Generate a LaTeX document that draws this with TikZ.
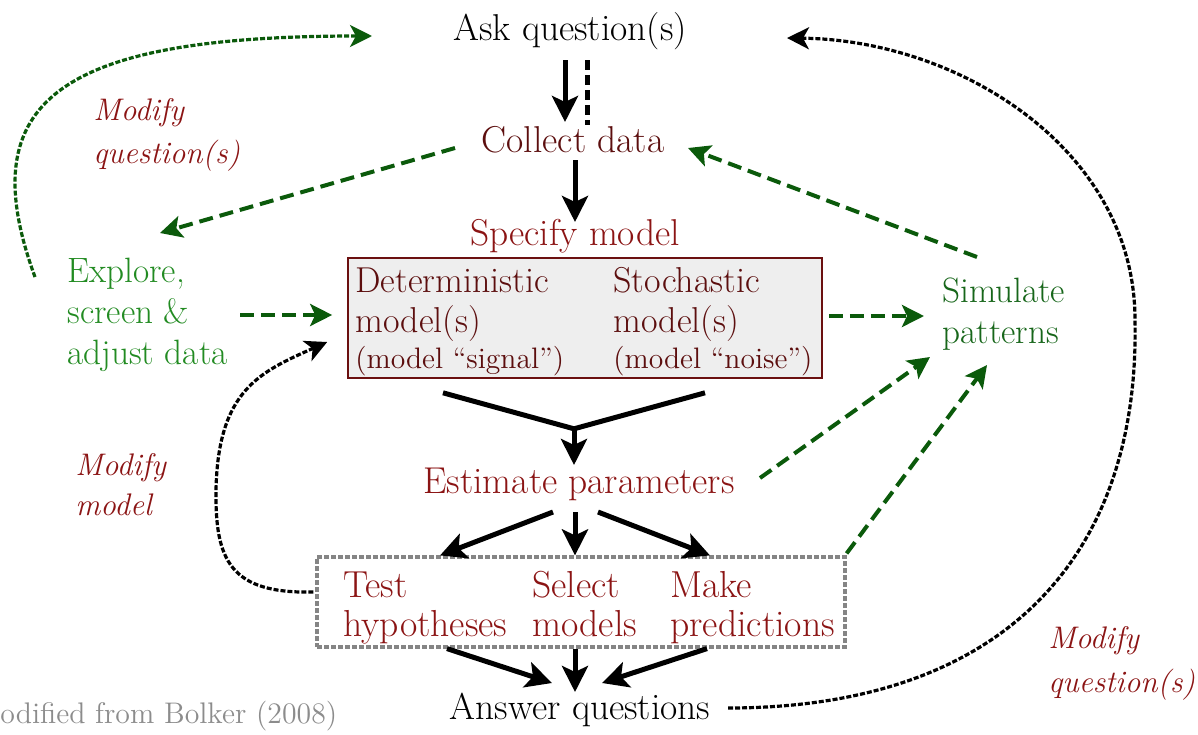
\documentclass[tikz,border=0pt]{standalone}
\usepackage{xcolor}
\usetikzlibrary{arrows.meta}

\definecolor{darkmaroon}{HTML}{5C0E0E}
\definecolor{brickred}{HTML}{8B1414}
\definecolor{boxred}{HTML}{6B1010}
\definecolor{leafgreen}{HTML}{228B22}
\definecolor{pinegreen}{HTML}{17661A}
\definecolor{arrowgreen}{HTML}{0B5A0B}
\definecolor{notegray}{HTML}{8C8C8C}
\definecolor{panelgray}{HTML}{EEEEEE}
\definecolor{framegray}{HTML}{858585}

\begin{document}
\begin{tikzpicture}[
    x=0.5pt, y=-0.5pt,
    type-step/.style={inner sep=2pt, anchor=base, font=\fontsize{18.7}{22}\selectfont},
    type-part/.style={inner sep=0pt, anchor=base west, align=left, text=brickred, font=\fontsize{18.8}{19.5}\selectfont},
    type-model/.style={inner sep=0pt, anchor=base west, align=left, text=darkmaroon, font=\fontsize{18}{20}\selectfont},
    type-green/.style={inner sep=0pt, anchor=base west, align=left, font=\fontsize{17.6}{20.5}\selectfont},
    type-modify/.style={inner sep=0pt, anchor=base west, align=left, text=brickred, font=\fontsize{15.6}{21.5}\itshape\selectfont},
    arr-main/.style={line width=2.5pt, -{Stealth[length=13pt, width=13pt, inset=3pt]}},
    arr-green/.style={arrowgreen, line width=2pt, dash pattern=on 7pt off 3.5pt, -{Stealth[length=11pt, width=11pt, inset=2.5pt]}},
    arr-loop/.style={line width=1.6pt, dash pattern=on 2.5pt off 1pt, -{Stealth[length=11pt, width=11pt, inset=3pt]}}
  ]
  \useasboundingbox (0,0) rectangle (1198,734);

  % main column
  \node[type-step] (ask) at (570,40) {Ask question(s)};
  \node[type-step, text=darkmaroon] (collect) at (573,152) {Collect data};
  \node[type-step, text=brickred] (specify) at (575,245) {Specify model};
  \node[draw=boxred, line width=0.8pt, fill=panelgray, minimum width=237pt, minimum height=60pt, inner sep=0pt] (box) at (585,318) {};
  \node[type-model] (det) at (355,332) {Deterministic\\model(s)};
  \node[type-model, font=\fontsize{14.8}{17}\selectfont] (detnote) at (355,368) {(model “signal”)};
  \node[type-model] (sto) at (613,332) {Stochastic\\model(s)};
  \node[type-model, font=\fontsize{14.8}{17}\selectfont] (stonote) at (613,368) {(model “noise”)};
  \node[type-step, text=brickred] (estimate) at (579,493) {Estimate parameters};
  \node[draw=framegray, line width=1.6pt, dash pattern=on 2.4pt off 1.1pt, minimum width=264pt, minimum height=45pt, inner sep=0pt] (outbox) at (581,602) {};
  \node[type-part] (test) at (343,636) {Test\\hypotheses};
  \node[type-part] (select) at (532,636) {Select\\models};
  \node[type-part] (make) at (670,636) {Make\\predictions};
  \node[type-step] (answer) at (580,719) {Answer questions};

  % side nodes
  \node[type-green, text=leafgreen] (explore) at (67,364) {Explore,\\screen \&\\adjust data};
  \node[type-green, text=pinegreen] (simulate) at (942,343) {Simulate\\patterns};
  \node[type-modify] (modq) at (93,163) {Modify\\question(s)};
  \node[type-modify, font=\fontsize{15.6}{20}\itshape\selectfont] (modm) at (75,515) {Modify\\model};
  \node[type-modify, font=\fontsize{15.6}{22}\itshape\selectfont] (modqr) at (1048,692) {Modify\\question(s)};
  \node[inner sep=0pt, anchor=base west, text=notegray, font=\fontsize{14.9}{17}\selectfont] (source) at (0,723) {odified from Bolker (2008)};

  % black flow
  \draw[arr-main] ([xshift=-2.5pt,yshift=-10pt]ask.base) -- ([xshift=-4pt,yshift=15pt]collect.base);
  \draw[line width=2.5pt, dash pattern=on 5pt off 2.5pt] ([xshift=8.5pt,yshift=-10pt]ask.base) -- ([xshift=7pt,yshift=13.5pt]collect.base);
  \draw[arr-main] ([xshift=1pt,yshift=-4pt]collect.base) -- ([yshift=11.5pt]specify.base);
  \coordinate (fork) at ([xshift=-5.5pt,yshift=-25pt]box.south);
  \draw[line width=2.5pt] ([xshift=-71pt,yshift=-7pt]box.south) -- (fork) -- ([xshift=60pt,yshift=-7pt]box.south);
  \draw[arr-main] (fork) -- ([xshift=-2.5pt,yshift=14pt]estimate.base);
  \draw[arr-main] ([xshift=-13pt,yshift=-9.5pt]estimate.base) -- ([xshift=-70.5pt]outbox.north);
  \draw[arr-main] ([xshift=-2pt,yshift=-9.5pt]estimate.base) -- ([xshift=-3pt]outbox.north);
  \draw[arr-main] ([xshift=9.5pt,yshift=-9.5pt]estimate.base) -- ([xshift=64.5pt]outbox.north);
  \draw[arr-main] ([xshift=-67pt]outbox.south) -- ([xshift=-14pt,yshift=18pt]answer.base);
  \draw[arr-main] ([xshift=-3pt]outbox.south) -- ([xshift=-2.5pt,yshift=13.5pt]answer.base);
  \draw[arr-main] ([xshift=63pt]outbox.south) -- ([xshift=11pt,yshift=18pt]answer.base);

  % green dashed
  \draw[arr-green] ([xshift=-59pt,yshift=2pt]collect.base) -- ([xshift=46.5pt,yshift=65.5pt]explore.base west);
  \draw[arr-green] ([xshift=86.5pt,yshift=24.5pt]explore.base west) -- ([xshift=-7.5pt,yshift=1.5pt]box.west);
  \draw[arr-green] ([xshift=3pt,yshift=1pt]box.east) -- ([xshift=-9pt,yshift=13.5pt]simulate.base west);
  \draw[arr-green] ([xshift=17.5pt,yshift=43pt]simulate.base west) -- ([xshift=57.5pt,yshift=2pt]collect.base);
  \draw[arr-green] ([xshift=90.5pt,yshift=7.5pt]estimate.base) -- ([xshift=-6pt,yshift=-7pt]simulate.base west);
  \draw[arr-green] ([yshift=1pt]outbox.north east) -- ([xshift=22.5pt,yshift=-11pt]simulate.base west);

  % loops
  \draw[arr-loop, arrowgreen] ([xshift=-16pt,yshift=43.5pt]explore.base west) .. controls (-30,100) and (60,36) .. ([xshift=-99pt,yshift=2pt]ask.base);
  \draw[arr-loop] ([xshift=74pt,yshift=5.5pt]answer.base) .. controls (1000,708) and (1140,560) .. (1135,320) .. controls (1135,150) and (960,40) .. ([xshift=108.5pt,yshift=1pt]ask.base);
  \draw[arr-loop] ([xshift=-1pt,yshift=5pt]outbox.west) .. controls (230,594) and (215,560) .. (216,490) .. controls (218,390) and (260,372) .. ([xshift=-10pt,yshift=-12pt]box.west);
\end{tikzpicture}
\end{document}
